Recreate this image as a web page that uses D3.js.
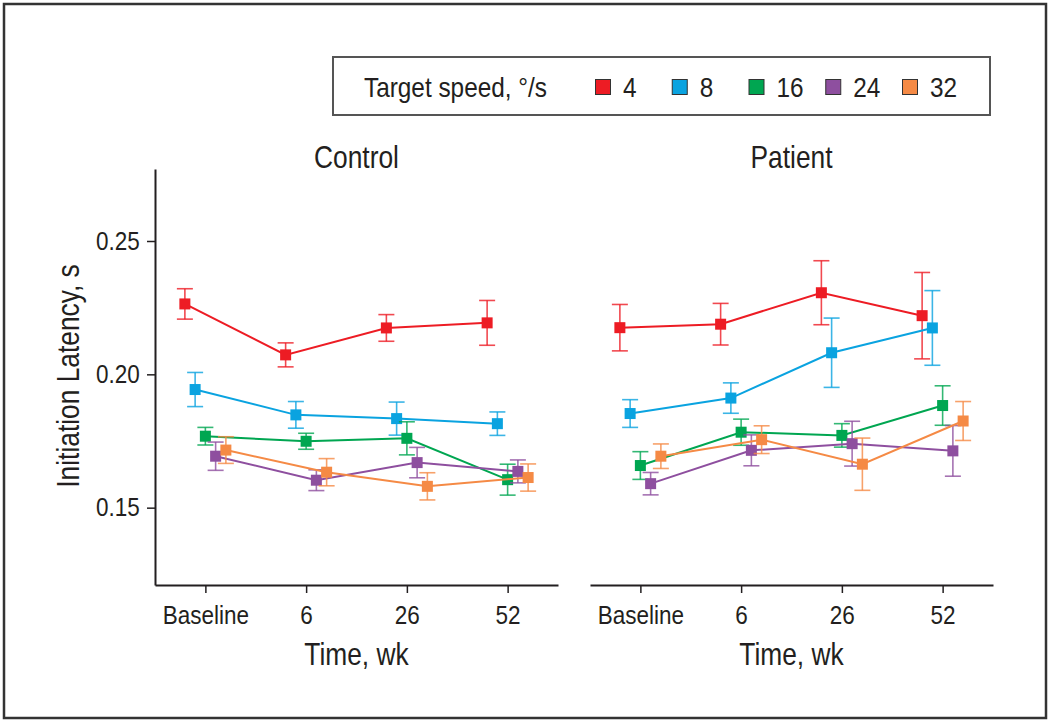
<!DOCTYPE html>
<html>
<head>
<meta charset="utf-8">
<script src="https://cdn.jsdelivr.net/npm/d3@7"></script>
<style>
  html, body { margin: 0; padding: 0; background: #fff; }
  svg { display: block; }
  text { font-family: "Liberation Sans", Arial, sans-serif; fill: #231f20; }
</style>
</head>
<body>
<svg id="chart" width="1050" height="723"></svg>
<script>
// ---- data ----
const times = ["Baseline", "6", "26", "52"];
const speeds = ["4", "8", "16", "24", "32"];
const speedColors = ["#ED1C24", "#0AA3E0", "#00A651", "#8E4F9F", "#F58A45"];
const yTicks = [0.15, 0.20, 0.25];
const panels = ["Control", "Patient"];

// means per speed (rows) per time (cols)
const controlMeans = [
  [0.2264, 0.2073, 0.2174, 0.2193],
  [0.1943, 0.1848, 0.1834, 0.1815],
  [0.1768, 0.1749, 0.1760, 0.1605],
  [0.1693, 0.1603, 0.1669, 0.1636],
  [0.1716, 0.1633, 0.1580, 0.1613]
];
const controlErrors = [
  [0.0057, 0.0045, 0.0050, 0.0084],
  [0.0064, 0.0050, 0.0062, 0.0044],
  [0.0033, 0.0030, 0.0062, 0.0058],
  [0.0053, 0.0039, 0.0057, 0.0043],
  [0.0050, 0.0051, 0.0051, 0.0051]
];
const patientMeans = [
  [0.2175, 0.2188, 0.2306, 0.2220],
  [0.1853, 0.1911, 0.2081, 0.2174],
  [0.1658, 0.1783, 0.1771, 0.1883],
  [0.1590, 0.1715, 0.1740, 0.1713],
  [0.1693, 0.1755, 0.1663, 0.1825]
];
const patientErrors = [
  [0.0087, 0.0078, 0.0120, 0.0162],
  [0.0052, 0.0057, 0.0130, 0.0140],
  [0.0052, 0.0049, 0.0044, 0.0074],
  [0.0042, 0.0058, 0.0084, 0.0095],
  [0.0046, 0.0052, 0.0098, 0.0073]
];

// ---- layout ----
const svg = d3.select("#chart");
const ink = "#231f20";
const fontTick = 25, tickScale = 0.9;
const fontTitle = 31, titleScale = 0.85;
const fontLegend = 28, legendScale = 0.87;

// condensed text helper (horizontal squeeze of a real text element)
function ctext(sel, x, y, size, sx, anchor, str, rot) {
  return sel.append("text")
    .attr("transform", `translate(${x},${y})${rot ? " rotate(" + rot + ")" : ""} scale(${sx},1)`)
    .attr("text-anchor", anchor).attr("font-size", size).text(str);
}

// outer frame
svg.append("rect").attr("x", 4).attr("y", 4).attr("width", 1042).attr("height", 714)
  .attr("fill", "none").attr("stroke", "#333").attr("stroke-width", 2.5);

const y = d3.scaleLinear().domain([0.121, 0.277]).range([585, 169]);
const panelRanges = [[155, 558], [590, 993]];
const dodge = d3.scalePoint().domain(speeds).range([-20.5, 20.5]);
const color = d3.scaleOrdinal().domain(speeds).range(speedColors);

const datasets = [
  { means: controlMeans, errors: controlErrors },
  { means: patientMeans, errors: patientErrors }
];

panels.forEach((name, pi) => {
  const x = d3.scalePoint().domain(times).range(panelRanges[pi]).padding(0.5);
  const g = svg.append("g");

  // x axis
  const xAxis = g.append("g").attr("transform", "translate(0,585)")
    .call(d3.axisBottom(x).tickSizeOuter(0).tickSizeInner(8).tickPadding(13));
  xAxis.select(".domain").attr("stroke", ink).attr("stroke-width", 2);
  xAxis.selectAll(".tick line").attr("stroke", ink).attr("stroke-width", 1.5);
  xAxis.selectAll(".tick text").attr("font-size", fontTick).attr("font-family", null)
    .attr("fill", ink).attr("transform", `scale(${tickScale},1)`);

  // y axis (left panel only)
  if (pi === 0) {
    const yAxis = g.append("g").attr("transform", `translate(${panelRanges[0][0]},0)`)
      .call(d3.axisLeft(y).tickValues(yTicks).tickFormat(d3.format(".2f"))
        .tickSizeOuter(0).tickSizeInner(8).tickPadding(9));
    yAxis.select(".domain").attr("stroke", ink).attr("stroke-width", 2);
    yAxis.selectAll(".tick line").attr("stroke", ink).attr("stroke-width", 1.5);
    yAxis.selectAll(".tick text").attr("font-size", fontTick).attr("font-family", null)
      .attr("fill", ink).attr("transform", `scale(${tickScale},1)`);
  }

  // panel title and x title
  const cx = (panelRanges[pi][0] + panelRanges[pi][1]) / 2;
  ctext(g, cx, 168, fontTitle, titleScale, "middle", name);
  ctext(g, cx, 665, fontTitle, titleScale, "middle", "Time, wk");

  const ds = datasets[pi];
  speeds.forEach((sp, si) => {
    const pts = times.map((t, ti) => ({
      x: x(t) + dodge(sp),
      m: ds.means[si][ti],
      e: ds.errors[si][ti]
    }));
    const c = color(sp);
    const sg = g.append("g");
    sg.append("path").datum(pts)
      .attr("fill", "none").attr("stroke", c).attr("stroke-width", 2)
      .attr("d", d3.line().x(d => d.x).y(d => y(d.m)));
    const eb = sg.selectAll("g.err").data(pts).enter().append("g")
      .attr("stroke", c).attr("stroke-opacity", 0.8).attr("stroke-width", 1.6);
    eb.append("line").attr("x1", d => d.x).attr("x2", d => d.x)
      .attr("y1", d => y(d.m + d.e)).attr("y2", d => y(d.m - d.e));
    eb.append("line").attr("x1", d => d.x - 8).attr("x2", d => d.x + 8)
      .attr("y1", d => y(d.m + d.e)).attr("y2", d => y(d.m + d.e));
    eb.append("line").attr("x1", d => d.x - 8).attr("x2", d => d.x + 8)
      .attr("y1", d => y(d.m - d.e)).attr("y2", d => y(d.m - d.e));
    const s = 11;
    sg.selectAll("rect").data(pts).enter().append("rect")
      .attr("x", d => d.x - s / 2).attr("y", d => y(d.m) - s / 2)
      .attr("width", s).attr("height", s).attr("fill", c);
  });
});

// y axis title
ctext(svg, 79, 376, fontTitle, titleScale, "middle", "Initiation Latency, s", -90);

// legend
const lg = svg.append("g");
lg.append("rect").attr("x", 333).attr("y", 57).attr("width", 657).attr("height", 58)
  .attr("fill", "#fff").attr("stroke", "#555").attr("stroke-width", 2);
ctext(lg, 364, 97, fontLegend, legendScale, "start", "Target speed, °/s");
const legendX = d3.scalePoint().domain(speeds).range([595, 902]);
const items = lg.selectAll("g.item").data(speeds).enter().append("g")
  .attr("transform", d => `translate(${legendX(d)},0)`);
items.append("rect").attr("x", 0.5).attr("y", 79.5).attr("width", 15).attr("height", 15)
  .attr("fill", d => color(d)).attr("stroke", "#333").attr("stroke-width", 1);
items.each(function (d) { ctext(d3.select(this), 28, 97, fontLegend, legendScale, "start", d); });
</script>
</body>
</html>
